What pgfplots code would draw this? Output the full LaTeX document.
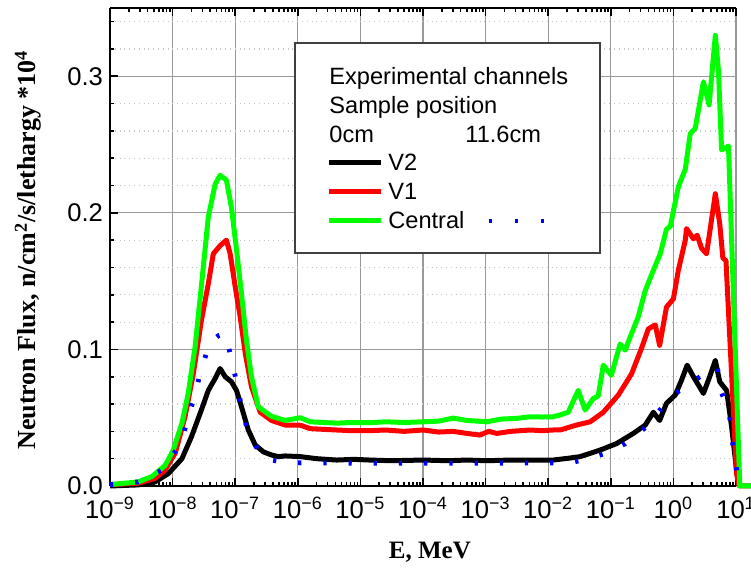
\documentclass[border=0pt]{standalone}
\usepackage{fontspec}
\setmainfont{Liberation Sans}
\newfontfamily\labelfont{Liberation Serif}
\usepackage{pgfplots}
\pgfplotsset{compat=1.18}
\definecolor{fluxGreen}{RGB}{0,255,0}
\definecolor{fluxRed}{RGB}{255,0,0}
\definecolor{calcBlue}{RGB}{0,0,255}
\newcommand{\legfont}{\fontsize{11.8}{14}\selectfont}
\tikzset{bluedots/.style={calcBlue, line width=2.4pt, dash pattern=on 1.6pt off 11pt}}

\begin{document}
\begin{tikzpicture}
\begin{axis}[
    scale only axis,
    width=313pt, height=239pt,
    xmode=log,
    xmin=1e-9, xmax=10,
    ymin=0, ymax=0.35,
    axis x line*=box,
    axis y line*=left,
    clip=false,
    xtick={1e-9,1e-8,1e-7,1e-6,1e-5,1e-4,1e-3,1e-2,1e-1,1,10},
    xticklabels={10\textsuperscript{−9},10\textsuperscript{−8},10\textsuperscript{−7},10\textsuperscript{−6},10\textsuperscript{−5},10\textsuperscript{−4},10\textsuperscript{−3},10\textsuperscript{−2},10\textsuperscript{−1},10\textsuperscript{0},10\textsuperscript{1}},
    ytick={0,0.1,0.2,0.3,0.4},
    minor y tick num=4,
    yticklabel style={/pgf/number format/.cd, fixed, fixed zerofill, precision=1, assume math mode=true},
    tick label style={font=\fontsize{12.8}{14}\selectfont},
    xticklabel style={yshift=-2pt},
    tick align=inside,
    major tick length=4pt, minor tick length=2pt,
    xmajorgrids, ymajorgrids, yminorgrids,
    major grid style={gray!80, line width=0.6pt},
    minor grid style={gray!45, dotted, line width=0.6pt},
    axis line style={line width=1pt},
    every tick/.style={black, line width=0.8pt},
    xlabel={E, MeV},
    ylabel={Neutron Flux, n/cm\textsuperscript{2}/s/lethargy *10\textsuperscript{4}},
    xlabel style={at={(axis description cs:0.511,-0.138)}, anchor=center, font=\labelfont\bfseries\fontsize{12.5}{14}\selectfont},
    ylabel style={at={(axis description cs:-0.131,0.494)}, anchor=center, font=\labelfont\bfseries\fontsize{13}{15}\selectfont},
]
% V2
\addplot[black, line width=2.5pt, line join=round] coordinates {
(1e-9,0.0) (2.82e-9,0.0008) (5.25e-9,0.003) (8.51e-9,0.009) (1.41e-8,0.020)
(2.0e-8,0.036) (2.88e-8,0.0556) (3.72e-8,0.070) (4.79e-8,0.0788) (5.75e-8,0.086)
(6.92e-8,0.080) (8.71e-8,0.0763) (1.05e-7,0.070) (1.26e-7,0.058) (1.62e-7,0.041)
(2.09e-7,0.030) (2.82e-7,0.025) (3.80e-7,0.0227) (4.90e-7,0.0215) (6.31e-7,0.022)
(1.10e-6,0.0215) (2.0e-6,0.020) (4.17e-6,0.019) (7.94e-6,0.0195) (1.41e-5,0.019)
(3.16e-5,0.0185) (1e-4,0.019) (2.51e-4,0.0185) (5.01e-4,0.019) (1.05e-3,0.0185)
(2.51e-3,0.019) (5.13e-3,0.019) (1.20e-2,0.019) (2.09e-2,0.0203) (3.24e-2,0.0215)
(6.76e-2,0.0263) (1.23e-1,0.031) (2.29e-1,0.0385) (3.55e-1,0.0446) (4.79e-1,0.054)
(6.03e-1,0.048) (7.76e-1,0.0605) (1.07,0.0666) (1.35,0.0775) (1.66,0.0885)
(2.09,0.080) (3.02,0.0678) (3.80,0.080) (4.68,0.092) (5.50,0.0763)
(7.08,0.070) (8.51,0.0434) (10.2,0.0117) (11.2,0.0)
};
% V1
\addplot[fluxRed, line width=2.5pt, line join=round] coordinates {
(1e-9,0.001) (2.82e-9,0.002) (5.25e-9,0.0056) (7.59e-9,0.0117) (1.10e-8,0.024)
(1.58e-8,0.0507) (2.14e-8,0.082) (2.88e-8,0.121) (3.72e-8,0.148) (4.47e-8,0.170)
(5.75e-8,0.176) (7.24e-8,0.180) (8.32e-8,0.170) (1e-7,0.146) (1.20e-7,0.124)
(1.45e-7,0.097) (1.82e-7,0.0726) (2.51e-7,0.054) (3.80e-7,0.048) (6.31e-7,0.0446)
(1.10e-6,0.0445) (1.58e-6,0.042) (2.51e-6,0.0415) (4.17e-6,0.041) (7.08e-6,0.0405)
(1.41e-5,0.0405) (2.51e-5,0.041) (5.01e-5,0.040) (1e-4,0.041) (1.78e-4,0.0395)
(3.02e-4,0.040) (5.01e-4,0.0385) (8.13e-4,0.0373) (1.12e-3,0.040) (1.51e-3,0.0385)
(2.51e-3,0.040) (5.13e-3,0.041) (7.94e-3,0.0405) (1.20e-2,0.041) (1.55e-2,0.041)
(2.82e-2,0.0446) (4.68e-2,0.047) (7.59e-2,0.054) (1.32e-1,0.0666) (2.14e-1,0.082)
(3.09e-1,0.1007) (3.98e-1,0.115) (5.13e-1,0.118) (6.03e-1,0.103) (7.76e-1,0.131)
(1.0,0.137) (1.20,0.158) (1.55,0.180) (1.62,0.1885) (2.09,0.181)
(2.40,0.1836) (2.82,0.174) (3.39,0.170) (4.68,0.214) (5.50,0.192)
(6.17,0.167) (6.92,0.165) (10.2,0.009) (11.2,0.0) (17.8,0.0)
};
% Central
\addplot[fluxGreen, line width=2.5pt, line join=round] coordinates {
(1e-9,0.001) (2.82e-9,0.003) (4.68e-9,0.007) (7.59e-9,0.015) (1.02e-8,0.026)
(1.41e-8,0.046) (1.78e-8,0.068) (2.29e-8,0.102) (2.88e-8,0.146) (3.72e-8,0.197)
(4.79e-8,0.221) (5.75e-8,0.2275) (7.24e-8,0.224) (8.71e-8,0.204) (1.05e-7,0.173)
(1.26e-7,0.141) (1.51e-7,0.107) (1.82e-7,0.080) (2.34e-7,0.058) (3.80e-7,0.051)
(6.31e-7,0.048) (1.10e-6,0.050) (1.58e-6,0.047) (2.51e-6,0.0465) (4.17e-6,0.046)
(7.08e-6,0.0465) (1.41e-5,0.0463) (2.51e-5,0.047) (5.01e-5,0.0465) (1e-4,0.047)
(1.78e-4,0.0475) (3.02e-4,0.0497) (5.01e-4,0.048) (1.05e-3,0.047) (1.78e-3,0.049)
(3.16e-3,0.0495) (5.13e-3,0.0507) (7.94e-3,0.0505) (1.20e-2,0.0507) (1.55e-2,0.052)
(2.09e-2,0.054) (3.02e-2,0.070) (3.89e-2,0.0556) (5.25e-2,0.064) (6.31e-2,0.066)
(7.59e-2,0.0885) (1.02e-1,0.081) (1.41e-1,0.104) (1.70e-1,0.0995) (2.04e-1,0.109)
(2.75e-1,0.124) (3.55e-1,0.143) (4.79e-1,0.158) (6.17e-1,0.170) (7.76e-1,0.188)
(8.91e-1,0.190) (1.20,0.219) (1.55,0.232) (1.86,0.258) (2.24,0.262)
(3.02,0.296) (3.72,0.279) (4.68,0.330) (5.25,0.304) (5.89,0.246)
(7.59,0.249) (11.5,0.0) (17.8,0.0)
};
% Central, 11.6 cm
\addplot[bluedots] coordinates {
(1e-9,0.001) (2.82e-9,0.003) (7.08e-9,0.0122) (1.32e-8,0.0307) (1.78e-8,0.0495)
(2.29e-8,0.068) (2.95e-8,0.087) (3.98e-8,0.1056) (5.37e-8,0.110) (6.92e-8,0.1117)
(8.71e-8,0.093) (1.07e-7,0.0744) (1.29e-7,0.0556) (1.66e-7,0.037) (2.88e-7,0.0197)
(7.24e-7,0.017) (3.16e-6,0.0168) (3.16e-5,0.0166) (3.16e-4,0.0166) (3.16e-3,0.0168)
(2.24e-2,0.017) (4.79e-2,0.0203) (9.55e-2,0.025) (1.70e-1,0.031) (3.55e-1,0.0427)
(7.08e-1,0.0593) (1.48,0.0732) (3.31,0.0824) (5.01,0.0873) (5.89,0.068)
(7.76,0.055) (8.51,0.0366) (9.77,0.018) (11.2,0.0)
};
\end{axis}
% legend box
\draw[black!75, line width=0.8pt, fill=white] (92.5pt,116.5pt) rectangle (245pt,221.5pt);
\node[anchor=base west, inner sep=0pt, font=\legfont] at (109.5pt,200.5pt) {Experimental channels};
\node[anchor=base west, inner sep=0pt, font=\legfont] at (109.5pt,186pt) {Sample position};
\node[anchor=base west, inner sep=0pt, font=\legfont] at (109.5pt,171.7pt) {0cm};
\node[anchor=base west, inner sep=0pt, font=\legfont] at (177.5pt,171.7pt) {11.6cm};
\draw[black, line width=2.5pt] (109.5pt,161.5pt) -- (135.5pt,161.5pt);
\node[anchor=base west, inner sep=0pt, font=\legfont] at (139pt,157.7pt) {V2};
\draw[fluxRed, line width=2.5pt] (109.5pt,147pt) -- (135.5pt,147pt);
\node[anchor=base west, inner sep=0pt, font=\legfont] at (139pt,143.3pt) {V1};
\draw[fluxGreen, line width=2.5pt] (109.5pt,132.5pt) -- (135.5pt,132.5pt);
\node[anchor=base west, inner sep=0pt, font=\legfont] at (139pt,128.8pt) {Central};
\draw[bluedots, dash pattern=on 1.3pt off 11.7pt] (189.5pt,132.5pt) -- (218pt,132.5pt);
\pgfresetboundingbox
\path[use as bounding box] (-55pt,-43pt) rectangle (320.5pt,243pt);
\end{tikzpicture}
\end{document}
